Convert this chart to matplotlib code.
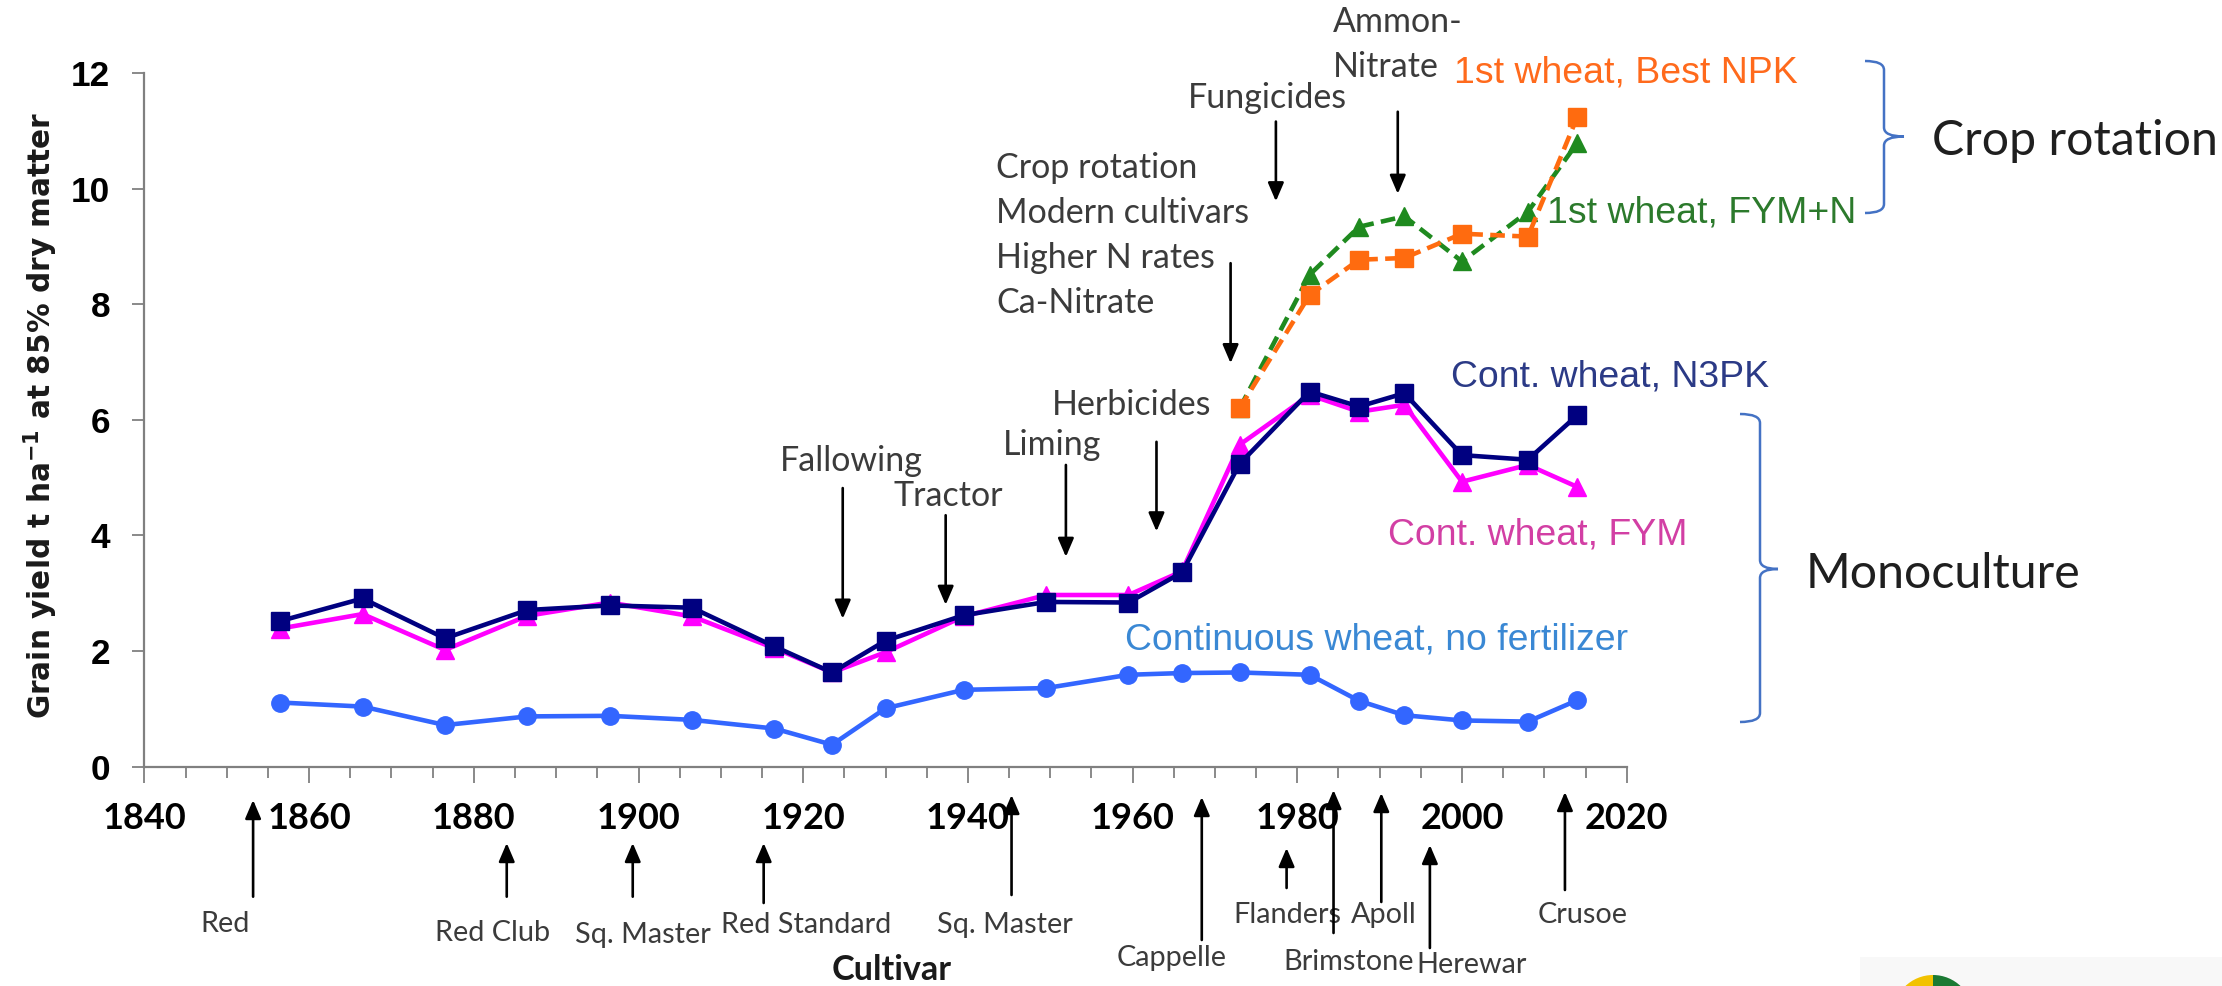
import matplotlib
matplotlib.use('Agg')
import matplotlib.pyplot as plt
from matplotlib.path import Path
from matplotlib.patches import PathPatch, Wedge, Rectangle
import matplotlib.transforms as mtransforms
from matplotlib.ticker import MultipleLocator

# ---------------- data ----------------
years = [1856.5, 1866.5, 1876.5, 1886.5, 1896.5, 1906.5, 1916.5, 1923.5, 1930, 1939.5,
         1949.5, 1959.5, 1966, 1973, 1981.5, 1987.5, 1993, 2000, 2008, 2014]
no_fert = [1.11, 1.04, 0.72, 0.87, 0.88, 0.81, 0.66, 0.38, 1.01, 1.33,
           1.36, 1.59, 1.62, 1.63, 1.59, 1.14, 0.89, 0.80, 0.78, 1.15]
fym = [2.39, 2.64, 2.02, 2.61, 2.84, 2.60, 2.05, 1.63, 1.98, 2.60,
       2.97, 2.97, 3.38, 5.57, 6.43, 6.14, 6.26, 4.93, 5.22, 4.84]
n3pk = [2.52, 2.91, 2.22, 2.71, 2.79, 2.75, 2.08, 1.63, 2.18, 2.62,
        2.85, 2.84, 3.36, 5.24, 6.49, 6.23, 6.46, 5.39, 5.31, 6.08]
rot_years = [1973, 1981.5, 1987.5, 1993, 2000, 2008, 2014]
best_npk = [6.20, 8.16, 8.77, 8.80, 9.22, 9.17, 11.24]
fym_n = [6.20, 8.51, 9.34, 9.52, 8.74, 9.60, 10.79]

y_ticks = [0, 2, 4, 6, 8, 10, 12]
x_ticks = [1840, 1860, 1880, 1900, 1920, 1940, 1960, 1980, 2000, 2020]

series_labels = ['1st wheat, Best NPK', '1st wheat, FYM+N', 'Cont. wheat, N3PK',
                 'Cont. wheat, FYM', 'Continuous wheat, no fertilizer']

# practice annotations: (text lines, text x, first baseline y, align, arrow x, arrow tail y, arrow tip y)
practices = [
    (['Fallowing'], 1925.9, 5.12, 'center', 1924.8, 4.82, 2.56),
    (['Tractor'], 1937.6, 4.51, 'center', 1937.3, 4.35, 2.80),
    (['Liming'], 1950.2, 5.39, 'center', 1951.9, 5.22, 3.63),
    (['Herbicides'], 1959.9, 6.08, 'center', 1962.9, 5.62, 4.07),
    (['Crop rotation', 'Modern cultivars', 'Higher N rates', 'Ca-Nitrate'], 1943.4, 10.19, 'left', 1971.9, 8.71, 6.98),
    (['Fungicides'], 1976.4, 11.40, 'center', 1977.4, 11.16, 9.78),
    (['Ammon-', 'Nitrate'], 1984.3, 12.71, 'left', 1992.2, 11.33, 9.91),
]

# cultivars: (name, label x (year), label baseline px from top, arrow x (year), tail px, tip px)
cultivars = [
    ('Red', 1849.8, 931.7, 1853.2, 896.7, 800),
    ('Red Club', 1882.3, 941, 1884.0, 896.7, 843),
    ('Sq. Master', 1900.5, 943, 1899.3, 896.7, 843),
    ('Red Standard', 1920.3, 933, 1915.2, 903, 843),
    ('Sq. Master', 1944.5, 933, 1945.3, 895, 795),
    ('Cappelle', 1964.7, 966, 1968.4, 940, 797),
    ('Flanders', 1978.8, 923, 1978.7, 888, 848),
    ('Brimstone', 1986.2, 970, 1984.4, 933, 790),
    ('Apoll', 1990.5, 923, 1990.2, 902, 793),
    ('Herewar', 2001.2, 973, 1996.1, 948, 845),
    ('Crusoe', 2014.6, 923, 2012.5, 890, 792),
]

# ---------------- figure ----------------
W, H = 2222, 986
fig = plt.figure(figsize=(W / 100, H / 100), dpi=100)
fig.patch.set_facecolor('white')
renderer = fig.canvas.get_renderer()


def fit(sample, target_px, **kw):
    t = fig.text(0, 0, sample, fontsize=20, **kw)
    w = t.get_window_extent(renderer=renderer).width
    t.remove()
    return 20.0 * target_px / w


ann_size = fit('Fallowing', 143, family='Lato')
cult_size = fit('Red Club', 116, family='Lato')
series_size = fit('Continuous wheat, no fertilizer', 502, family='Liberation Sans')
brace_size = fit('Monoculture', 276, family='Lato')
xt_size = fit('1840', 84, family='Lato', weight='bold')
yt_size = fit('12', 39, family='Liberation Sans', weight='bold')
ylabel = r'Grain yield t ha$^{\mathbf{-1}}$ at 85% dry matter'
ylab_size = fit(ylabel, 608, family='DejaVu Sans', weight='bold')
cultlab_size = fit('Cultivar', 120, family='Lato', weight='bold')

x0_px, x1_px = 144.4, 1626.7
y0_px, y12_px = 766.7, 73.0
ax = fig.add_axes([x0_px / W, 1 - y0_px / H, (x1_px - x0_px) / W, (y0_px - y12_px) / H])
ax.set_xlim(1840, 2020)
ax.set_ylim(0, 12)
ax.set_facecolor('none')

for s in ['top', 'right']:
    ax.spines[s].set_visible(False)
for s in ['left', 'bottom']:
    ax.spines[s].set_color('#808080')
    ax.spines[s].set_linewidth(1.6)

ax.set_yticks(y_ticks)
ax.set_yticklabels([str(v) for v in y_ticks], fontsize=yt_size, fontweight='bold',
                   family='Liberation Sans')
ax.set_xticks(x_ticks)
ax.set_xticklabels([str(v) for v in x_ticks], fontsize=xt_size, fontweight='bold', family='Lato')
ax.xaxis.set_minor_locator(MultipleLocator(5))
ax.tick_params(axis='y', direction='out', length=8.5, width=1.3, color='#808080', pad=16)
ax.tick_params(axis='x', which='major', direction='out', length=11.5, width=1.3, color='#808080', pad=14)
ax.tick_params(axis='x', which='minor', direction='out', length=7.7, width=1.3, color='#808080')

# ---------------- series ----------------
LW = 3.3
ax.plot(years, no_fert, color='#3366FF', lw=LW, marker='o', ms=12.5, zorder=3)
ax.plot(years, fym, color='#FF00FF', lw=LW, marker='^', ms=13.5, zorder=4)
ax.plot(years, n3pk, color='#000080', lw=LW, marker='s', ms=13.5, zorder=5)
ax.plot(rot_years, fym_n, color='#1F8A1F', lw=LW, marker='^', ms=13.5,
        linestyle=(0, (3.2, 1.6)), zorder=6)
ax.plot(rot_years, best_npk, color='#FF6B0F', lw=LW, marker='s', ms=13.5,
        linestyle=(0, (3.2, 1.6)), zorder=7)

# series labels
lab_pos = [(1999.0, 11.83, '#FF6A1C'), (2010.3, 9.41, '#2C7A2C'), (1998.7, 6.57, '#2B3A86'),
           (1991.0, 3.84, '#D23FA4'), (1959.1, 2.02, '#3A88D4')]
for txt, (lx, ly, c) in zip(series_labels, lab_pos):
    ax.text(lx, ly, txt, color=c, fontsize=series_size, family='Liberation Sans',
            ha='left', va='baseline', zorder=8)

# practice annotations
line_step = 45 / 57.8
arrow_kw = dict(arrowstyle='-|>,head_length=0.7,head_width=0.3', color='black', lw=1.9,
                mutation_scale=16, shrinkA=0, shrinkB=0)
for lines, tx, ty, ha, axx, y_tail, y_tip in practices:
    for i, ln in enumerate(lines):
        ax.text(tx, ty - i * line_step, ln, fontsize=ann_size, family='Lato', color='#3B3B3B',
                ha=ha, va='baseline')
    ax.annotate('', xy=(axx, y_tip), xytext=(axx, y_tail), arrowprops=arrow_kw,
                annotation_clip=False)

# cultivar arrows below the axis
trans = mtransforms.blended_transform_factory(ax.transData, fig.transFigure)
for name, lx, lb, axx, tail, tip in cultivars:
    ax.text(lx, 1 - lb / H, name, transform=trans, fontsize=cult_size, family='Lato',
            color='#3B3B3B', ha='center', va='baseline')
    ax.annotate('', xy=(axx, 1 - tip / H), xytext=(axx, 1 - tail / H), xycoords=trans,
                textcoords=trans, arrowprops=arrow_kw, annotation_clip=False)
ax.text(1930.7, 1 - 980 / H, 'Cultivar', transform=trans, fontsize=cultlab_size, family='Lato',
        fontweight='bold', color='#1a1a1a', ha='center', va='baseline')

# y label
fig.text(41 / W, 1 - 415 / H, ylabel, rotation=90, ha='center', va='center',
         fontsize=ylab_size, fontweight='bold', family='DejaVu Sans', color='#1a1a1a')


# braces
def brace(xl, xv, xt, yt, ym, yb, r=9):
    def p(x, y):
        return (x / 100.0, (H - y) / 100.0)
    verts = [p(xl, yt), p(xv, yt), p(xv, yt + r), p(xv, ym - r), p(xv, ym), p(xt, ym),
             p(xt, ym), p(xv, ym), p(xv, ym + r), p(xv, yb - r), p(xv, yb), p(xl, yb)]
    codes = [Path.MOVETO, Path.CURVE3, Path.CURVE3, Path.LINETO, Path.CURVE3, Path.CURVE3,
             Path.MOVETO, Path.CURVE3, Path.CURVE3, Path.LINETO, Path.CURVE3, Path.CURVE3]
    fig.patches.append(PathPatch(Path(verts, codes), transform=fig.dpi_scale_trans,
                                 facecolor='none', edgecolor='#4472C4', lw=1.8))


brace(1865, 1884, 1904, 61, 136.5, 213)
brace(1740, 1760, 1778, 414, 569, 722)
fig.text(1932 / W, 1 - 155 / H, 'Crop rotation', fontsize=brace_size, family='Lato',
         color='#1f1f1f', ha='left', va='baseline')
fig.text(1806 / W, 1 - 588 / H, 'Monoculture', fontsize=brace_size, family='Lato',
         color='#1f1f1f', ha='left', va='baseline')

# logo fragment bottom-right
fig.patches.append(Rectangle((18.60, 0), 3.62, (H - 957) / 100.0, transform=fig.dpi_scale_trans,
                             facecolor='#F8F8F8', edgecolor='none'))
fig.patches.append(Wedge((19.33, (H - 1015) / 100.0), 0.40, 90, 270, transform=fig.dpi_scale_trans,
                         facecolor='#F2C200', edgecolor='none'))
fig.patches.append(Wedge((19.33, (H - 1015) / 100.0), 0.40, -90, 90, transform=fig.dpi_scale_trans,
                         facecolor='#1B7A33', edgecolor='none'))

fig.savefig('out.png', dpi=100)
